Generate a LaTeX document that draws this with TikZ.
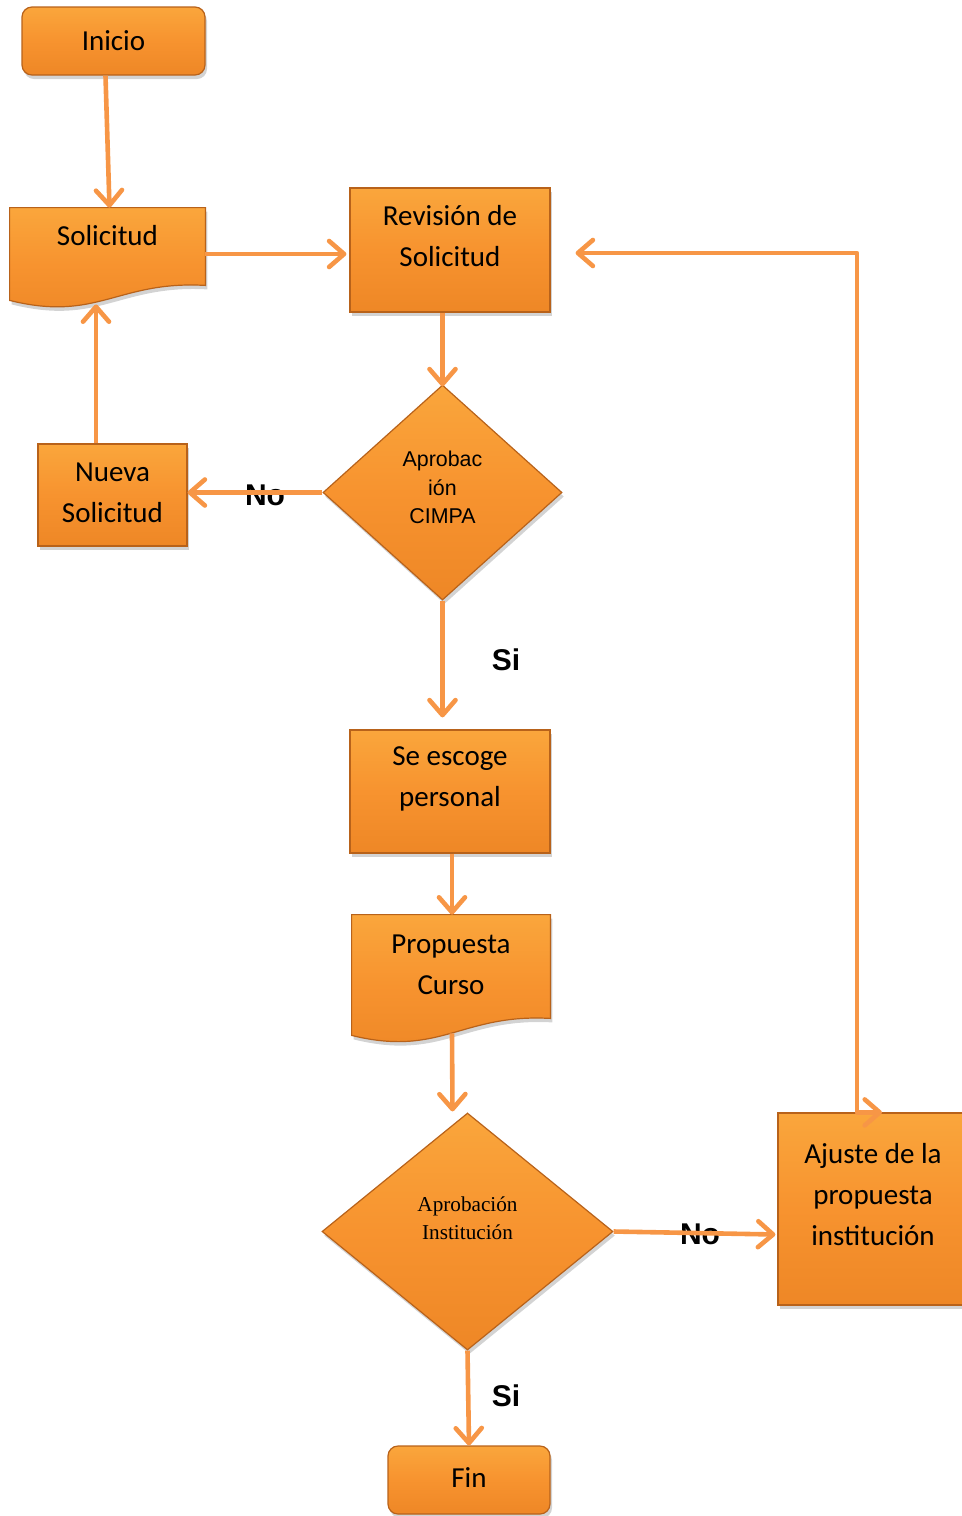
\documentclass[tikz,border=0pt]{standalone}
\usepackage{fontspec}
\setmainfont{Carlito}
\newfontfamily\arialf{Liberation Sans}
\newfontfamily\timesf{Liberation Serif}
\usetikzlibrary{arrows.meta,shapes.geometric,shadows,calc,backgrounds}
\definecolor{flowarrow}{HTML}{F79646}
\definecolor{boxtop}{HTML}{FAA63C}
\definecolor{boxmid}{HTML}{F7932F}
\definecolor{boxbot}{HTML}{EE8726}
\definecolor{boxedge}{HTML}{B8621A}
\begin{document}
\begin{tikzpicture}[x=0.5pt,y=-0.5pt,
  orangefill/.style={top color=boxtop, bottom color=boxbot, middle color=boxmid,
    draw=boxedge, line width=0.6pt,
    drop shadow={opacity=0.35, shadow xshift=1pt, shadow yshift=-2pt}},
  procbox/.style={orangefill, rectangle, inner sep=0},
  termbox/.style={procbox, rounded corners=5pt},
  decbox/.style={orangefill, diamond, inner sep=0},
  docbox/.style={rectangle, inner sep=0, draw=none},
  boxtext/.style={font=\fontsize{14.5}{20.5}\selectfont, align=center, inner sep=0},
  cimpatext/.style={font=\arialf\fontsize{10.7}{14.3}\selectfont, align=center, inner sep=0},
  insttext/.style={font=\timesf\fontsize{10.6}{14}\selectfont, align=center, inner sep=0},
  answer/.style={font=\arialf\bfseries\fontsize{15}{18}\selectfont, inner sep=0},
  tip/.tip={Straight Barb[length=7.5pt,width=13pt,round]},
  flow/.style={draw=flowarrow, line width=2.3pt, line join=round, -tip},
  flowboth/.style={flow, tip-tip},
]
\useasboundingbox (0,0) rectangle (962,1516);

% process and terminal boxes
\node[termbox, minimum width=91.5pt, minimum height=34pt,
  label={[boxtext]center:Inicio}] (inicio) at (113.5,41) {};
\node[procbox, minimum width=100pt, minimum height=62pt,
  label={[boxtext,yshift=6.75pt]center:{Revisión de\\Solicitud}}] (revision) at (450,250) {};
\node[procbox, minimum width=74.5pt, minimum height=51pt,
  label={[boxtext,yshift=1pt]center:{Nueva\\Solicitud}}] (nueva) at (112.5,495) {};
\node[procbox, minimum width=100pt, minimum height=61.5pt,
  label={[boxtext,yshift=6.5pt]center:{Se escoge\\personal}}] (seescoge) at (450,791.5) {};
\node[procbox, minimum width=95pt, minimum height=96pt,
  label={[boxtext,yshift=7.25pt]center:{Ajuste de la\\propuesta\\institución}}] (ajuste) at (873,1209) {};
\node[termbox, minimum width=81pt, minimum height=34pt,
  label={[boxtext,yshift=1pt]center:Fin}] (fin) at (469,1480) {};

% decisions
\node[decbox, minimum width=119.5pt, minimum height=107.5pt,
  label={[cimpatext,yshift=2.5pt]center:{Aprobac\\ión\\CIMPA}}] (cimpa) at (442.5,492.5) {};
\node[decbox, minimum width=145.5pt, minimum height=118.5pt,
  label={[insttext,yshift=6.75pt]center:{Aprobación\\Institución}}] (inst) at (467.5,1231.5) {};

% documents: the node gives the frame, the wavy outline is filled behind it
\node[docbox, minimum width=97.5pt, minimum height=46pt,
  label={[boxtext,yshift=9pt]center:Solicitud}] (solicitud) at (107.5,254) {};
\node[docbox, minimum width=99pt, minimum height=60pt,
  label={[boxtext,yshift=5.25pt]center:{Propuesta\\Curso}}] (propuesta) at (451,975) {};
\begin{scope}[on background layer]
  \path[orangefill] (solicitud.north west) -- (solicitud.north east)
    -- ($(solicitud.south east)+(0,-15)$)
    .. controls ($(solicitud.south east)+(-88,-20)$) and ($(solicitud.south west)+(88,22)$)
    .. (solicitud.south west) -- cycle;
  \path[orangefill] (propuesta.north west) -- (propuesta.north east)
    -- ($(propuesta.south east)+(0,-17)$)
    .. controls ($(propuesta.south east)+(-89,-22)$) and ($(propuesta.south west)+(89,22)$)
    .. (propuesta.south west) -- cycle;
\end{scope}

% answers on the decision branches
\node[answer] (no1) at (265,495) {No};
\node[answer] (si1) at (506,660) {Si};
\node[answer] (no2) at (700,1234) {No};
\node[answer] (si2) at (506,1396) {Si};

% connectors
\draw[flow] ($(inicio.south)+(-8,0)$) -- ($(solicitud.north)+(2,0)$);
\draw[flow] (solicitud.east) -- ($(revision.west|-solicitud.east)+(-3,0)$);
\draw[flow] (cimpa.north|-revision.south) -- ($(cimpa.north)+(0,2)$);
\draw[flow] (cimpa.west) -- (nueva.east|-cimpa.west);
\draw[flow] ($(nueva.north)+(-16.5,0)$) -- ($(solicitud.south)+(-11.5,4)$);
\draw[flow] (cimpa.south) -- ($(cimpa.south|-seescoge.north)+(0,-12)$);
\draw[flow] ($(seescoge.south)+(2,0)$) -- ($(propuesta.north)+(1,0)$);
\draw[flow] ($(propuesta.south)+(1,-2)$) -- ($(inst.north)+(-15,-1)$);
\draw[flow] (inst.south) -- (fin.north);
\draw[flow] (inst.east) -- ($(ajuste.west|-inst.east)+(-2,3)$);
\coordinate (ajtop) at ($(ajuste.north)+(9,0)$);
\draw[flowboth] (ajtop) -- ++(-25,0) |- ($(revision.east)+(25,3)$);
\end{tikzpicture}
\end{document}
